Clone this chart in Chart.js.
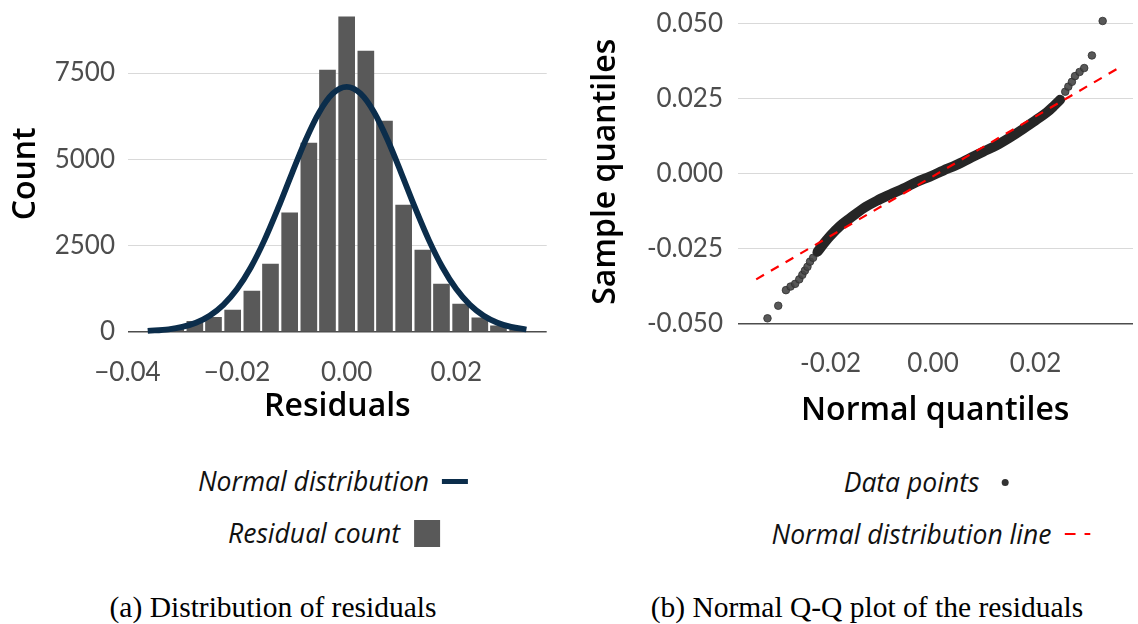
<!DOCTYPE html>
<html><head><meta charset="utf-8">
<script src="https://cdn.jsdelivr.net/npm/chart.js@4.4.1/dist/chart.umd.min.js"></script>
<style>
html,body{margin:0;padding:0;background:#fff;width:1138px;height:624px;overflow:hidden;position:relative;}
canvas{position:absolute;top:0;}
#c1{left:0;}
#c2{left:580px;}
.leg{position:absolute;transform:translate(-50%,-50%);display:flex;align-items:center;white-space:nowrap;font-family:'Open Sans',sans-serif;font-style:italic;font-size:26.5px;color:#111;line-height:30px;}
.key{display:inline-block;width:26px;margin-left:13px;position:relative;}
.cap{position:absolute;transform:translate(-50%,-50%);font-family:'Liberation Serif','Times New Roman',serif;font-size:29.5px;color:#000;white-space:nowrap;}
</style></head>
<body>
<canvas id="c1" width="570" height="440"></canvas>
<canvas id="c2" width="558" height="440"></canvas>

<div class="leg" style="left:333px;top:481px">Normal distribution<span class="key" style="height:5px;background:#0b2d4b"></span></div>
<div class="leg" style="left:334px;top:533px">Residual count<span class="key" style="height:27px;background:#595959;margin-left:14px"></span></div>
<div class="leg" style="left:931px;top:482px">Data points<span class="key" style="height:26px"><span style="position:absolute;left:9.5px;top:9.5px;width:7px;height:7px;border-radius:50%;background:#333"></span></span></div>
<div class="leg" style="left:931px;top:534px">Normal distribution line<span class="key" style="height:26px"><svg width="26" height="26" style="position:absolute;left:0;top:0"><line x1="0" y1="13" x2="26" y2="13" stroke="#ff0000" stroke-width="2.2" stroke-dasharray="11 9"/></svg></span></div>

<div class="cap" style="left:273px;top:607px">(a) Distribution of residuals</div>
<div class="cap" style="left:867px;top:607px">(b) Normal Q-Q plot of the residuals</div>

<script>
// ---------- (a) histogram of residuals ----------
const binCenters = [-0.0347,-0.0312,-0.0277,-0.0243,-0.0208,-0.0173,-0.0139,-0.0104,-0.0069,-0.0035,0.0000,0.0035,0.0069,0.0104,0.0139,0.0173,0.0208,0.0243,0.0277,0.0312];
const binCounts  = [40,95,300,420,628,1180,1962,3450,5470,7587,9133,8138,6108,3673,2368,1383,803,400,168,70];
const curveX = [-0.0363,-0.0325,-0.0300,-0.0275,-0.0250,-0.0225,-0.0200,-0.0175,-0.0150,-0.0125,-0.0100,-0.0075,-0.0050,-0.0025,0.0000,0.0025,0.0050,0.0075,0.0100,0.0125,0.0150,0.0175,0.0200,0.0225,0.0250,0.0275,0.0300,0.0328];
const curveY = [23,71,139,261,464,778,1237,1863,2657,3589,4587,5553,6366,6909,7100,6909,6366,5553,4587,3589,2657,1863,1237,778,464,261,139,65];
const histXTicks = [-0.04,-0.02,0.00,0.02];
const histXTickLabels = ['\u22120.04','\u22120.02','0.00','0.02'];
const histYTicks = [0,2500,5000,7500];
const histYTickLabels = ['0','2500','5000','7500'];

// ---------- (b) normal Q-Q plot ----------
const bandX = [-0.0225,-0.0217,-0.0201,-0.0182,-0.0162,-0.0136,-0.0110,-0.0084,-0.0058,-0.0032,-0.0006,0.0020,0.0046,0.0072,0.0098,0.0124,0.0150,0.0176,0.0202,0.0222,0.0235,0.0248];
const bandY = [-0.0259,-0.0241,-0.0208,-0.0175,-0.0148,-0.0115,-0.0090,-0.0069,-0.0049,-0.0027,-0.0009,0.0011,0.0030,0.0052,0.0074,0.0095,0.0121,0.0150,0.0181,0.0205,0.0225,0.0247];
const tailX = [-0.0323,-0.0302,-0.0287,-0.0278,-0.0269,-0.0261,-0.0255,-0.0250,-0.0245,-0.0240,-0.0234,-0.0227,0.0258,0.0264,0.0271,0.0277,0.0286,0.0295,0.0310,0.0331];
const tailY = [-0.0482,-0.0440,-0.0388,-0.0376,-0.0367,-0.0352,-0.0337,-0.0323,-0.0310,-0.0293,-0.0280,-0.0263,0.0274,0.0291,0.0307,0.0326,0.0340,0.0353,0.0395,0.0510];
const qqLineX = [-0.0345,0.0358];
const qqLineY = [-0.0352,0.0349];
const qqXTicks = [-0.02,0.00,0.02];
const qqXTickLabels = ['-0.02','0.00','0.02'];
const qqYTicks = [-0.050,-0.025,0.000,0.025,0.050];
const qqYTickLabels = ['-0.050','-0.025','0.000','0.025','0.050'];

const zip = (xs, ys) => xs.map((x, i) => ({x: x, y: ys[i]}));
const tickFont = {family: 'Lato', size: 26};
const tickColor = '#4d4d4d';
const titleFont = {family: 'Open Sans', size: 32, weight: '600'};
const gridColor = (zero) => (ctx) => (ctx.tick && Math.abs(ctx.tick.value - zero) < 1e-9) ? '#4d4d4d' : '#d9d9d9';
const gridWidth = (zero) => (ctx) => (ctx.tick && Math.abs(ctx.tick.value - zero) < 1e-9) ? 1.6 : 1.1;
const noPad = (s) => { s.paddingTop = 0; s.paddingBottom = 0; s.paddingLeft = 0; s.paddingRight = 0; };

new Chart(document.getElementById('c1'), {
  type: 'bar',
  data: {
    datasets: [
      {type: 'line', label: 'Normal distribution', data: zip(curveX, curveY), borderColor: '#0b2d4b', borderWidth: 5.8,
       pointRadius: 0, cubicInterpolationMode: 'monotone', fill: false, order: 0},
      {type: 'bar', label: 'Residual count', data: zip(binCenters, binCounts), backgroundColor: '#595959',
       barThickness: 16, order: 1}
    ]
  },
  options: {
    responsive: false, animation: false,
    layout: {padding: {left: 0, right: 23.3, top: 0, bottom: 0}},
    plugins: {legend: {display: false}, tooltip: {enabled: false}},
    scales: {
      x: {
        type: 'linear', min: -0.0399, max: 0.0365, offset: false,
        grid: {display: false, drawTicks: false}, border: {display: false},
        afterBuildTicks: (s) => { s.ticks = histXTicks.map(v => ({value: v})); },
        afterFit: (s) => { s.height = 92.4; noPad(s); },
        ticks: {font: tickFont, color: tickColor, padding: 9.5, maxRotation: 0, autoSkip: false,
                callback: (v, i) => histXTickLabels[i]},
        title: {display: true, text: 'Residuals', font: titleFont, color: '#000', padding: {top: 0, bottom: 13.8}}
      },
      y: {
        type: 'linear', min: -460, max: 9620,
        grid: {drawTicks: false, color: gridColor(0), lineWidth: gridWidth(0)}, border: {display: false},
        afterBuildTicks: (s) => { s.ticks = histYTicks.map(v => ({value: v})); },
        afterFit: (s) => { s.width = 128; noPad(s); },
        ticks: {font: tickFont, color: tickColor, padding: 13, callback: (v, i) => histYTickLabels[i]},
        title: {display: true, text: 'Count', font: titleFont, color: '#000', padding: {top: 6.8, bottom: 0}}
      }
    }
  }
});

new Chart(document.getElementById('c2'), {
  type: 'scatter',
  data: {
    datasets: [
      {label: 'Normal distribution line', data: zip(qqLineX, qqLineY), showLine: true, borderColor: '#ff0000',
       borderWidth: 2.2, borderDash: [9, 8], pointRadius: 0, order: 0},
      {label: 'Data points', data: zip(bandX, bandY), showLine: true, borderColor: '#262626', borderWidth: 10,
       borderCapStyle: 'round', cubicInterpolationMode: 'monotone', pointRadius: 0, order: 1},
      {label: 'Data points (tails)', data: zip(tailX, tailY), pointRadius: 3.8, pointBackgroundColor: 'rgba(70,70,70,0.9)',
       pointBorderColor: '#2e2e2e', pointBorderWidth: 0.8, order: 2}
    ]
  },
  options: {
    responsive: false, animation: false,
    layout: {padding: {left: 0, right: 5, top: 0, bottom: 0}},
    plugins: {legend: {display: false}, tooltip: {enabled: false}},
    scales: {
      x: {
        type: 'linear', min: -0.03815, max: 0.03902,
        grid: {display: false, drawTicks: false}, border: {display: false},
        afterBuildTicks: (s) => { s.ticks = qqXTicks.map(v => ({value: v})); },
        afterFit: (s) => { s.height = 101.3; noPad(s); },
        ticks: {font: tickFont, color: tickColor, padding: 9.5, maxRotation: 0, autoSkip: false,
                callback: (v, i) => qqXTickLabels[i]},
        title: {display: true, text: 'Normal quantiles', font: titleFont, color: '#000', padding: {top: 0, bottom: 9.8}}
      },
      y: {
        type: 'linear', min: -0.055, max: 0.0564,
        grid: {drawTicks: false, color: gridColor(-0.05), lineWidth: gridWidth(-0.05)}, border: {display: false},
        afterBuildTicks: (s) => { s.ticks = qqYTicks.map(v => ({value: v})); },
        afterFit: (s) => { s.width = 157.5; noPad(s); },
        ticks: {font: tickFont, color: tickColor, padding: 14.5, callback: (v, i) => qqYTickLabels[i]},
        title: {display: true, text: 'Sample quantiles', font: titleFont, color: '#000', padding: {top: 6.8, bottom: 0}}
      }
    }
  }
});
</script>
</body></html>
